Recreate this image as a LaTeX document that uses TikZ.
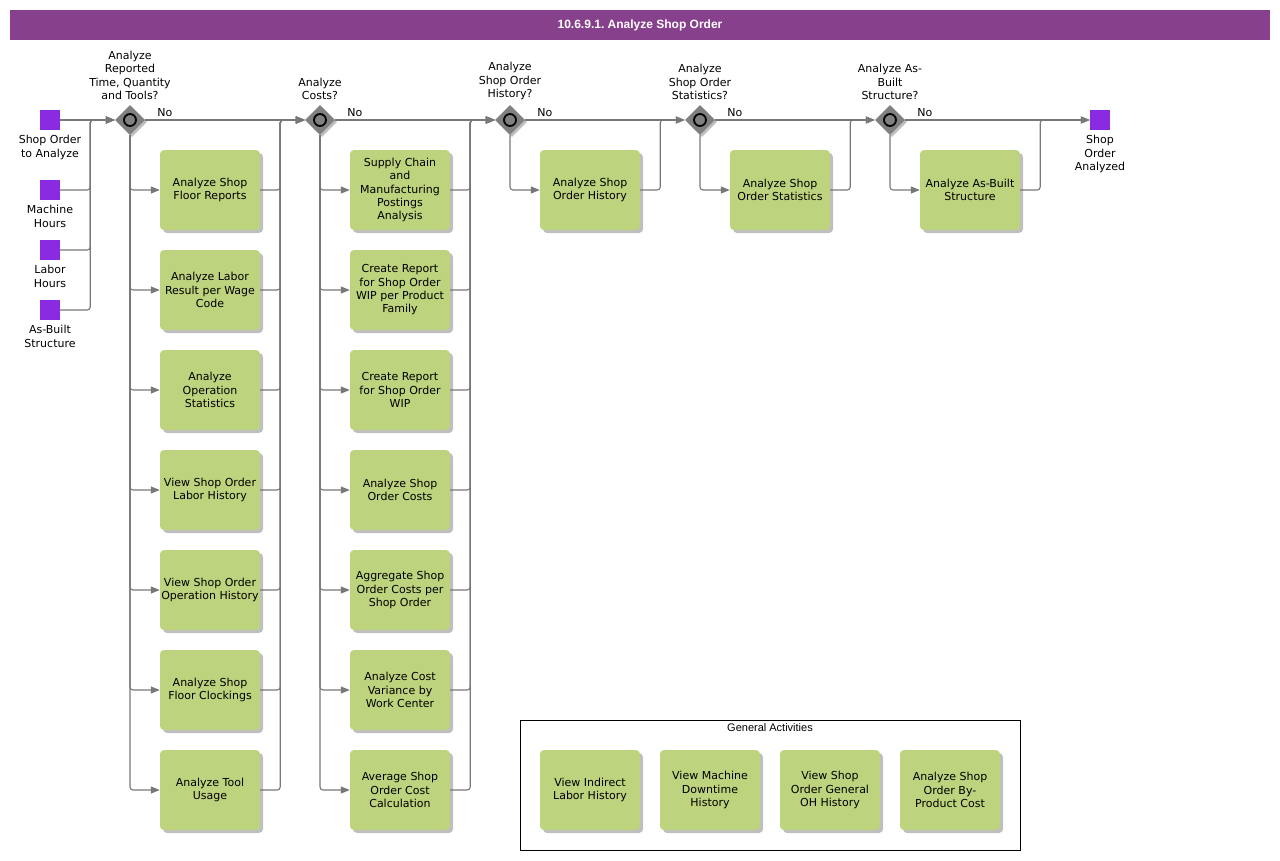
\documentclass[tikz,border=0pt]{standalone}
\usepackage{fontspec}
\setmainfont{DejaVu Sans}
\newfontfamily\headfont{Liberation Sans}
\usetikzlibrary{positioning,shapes.geometric,shadows,arrows.meta}
\definecolor{titlepurple}{RGB}{135,64,140}
\definecolor{eventpurple}{RGB}{138,43,226}
\definecolor{taskgreen}{RGB}{189,211,125}
\definecolor{gwgray}{RGB}{128,128,128}
\definecolor{linegray}{RGB}{120,120,120}
\newdimen\unitsize
\setlength{\unitsize}{1pt}
\frenchspacing

\begin{document}
\begin{tikzpicture}[x=\unitsize,y=-\unitsize]
\tikzset{txt/.style={font=\fontsize{11}{13.3}\selectfont, align=center, inner sep=0pt}}%
\tikzset{task/.style={txt, rectangle, rounded corners=4pt, fill=taskgreen, minimum width=100pt, minimum height=80pt,
  drop shadow={shadow xshift=3pt, shadow yshift=-3pt, fill=black, opacity=0.25}}}%
\tikzset{event/.style={rectangle, fill=eventpurple, minimum size=20pt, inner sep=0pt}}%
\tikzset{gateway/.style={diamond, fill=gwgray, minimum width=30pt, minimum height=30pt, inner sep=0pt,
  drop shadow={shadow xshift=2pt, shadow yshift=-2pt, fill=black, opacity=0.25},
  path picture={\draw[black, line width=1.8pt] (path picture bounding box.center) circle (6pt);}}}%
\tikzset{flow/.style={draw=linegray, line width=1.1pt, rounded corners=3pt, -{Triangle[length=9pt,width=7pt]}}}%
\useasboundingbox (0,0) rectangle (1280,860);
\node[fill=titlepurple, minimum width=1260pt, minimum height=30pt, text=white, font=\headfont\bfseries\fontsize{12}{14}\selectfont] (title) at (640,25) {10.6.9.1. Analyze Shop Order};
% events
\node[event] (s1) at (50,120) {};
\node[event] (s2) at (50,190) {};
\node[event] (s3) at (50,250) {};
\node[event] (s4) at (50,310) {};
\node[event] (e1) at (1100,120) {};
\node[txt, below=5pt of s1] {Shop Order\\to Analyze};
\node[txt, below=5pt of s2] {Machine\\Hours};
\node[txt, below=5pt of s3] {Labor\\Hours};
\node[txt, below=5pt of s4] {As-Built\\Structure};
\node[txt, below=5pt of e1] {Shop\\Order\\Analyzed};
% gateways
\node[gateway] (g1) at (130,120) {};
\node[gateway] (g2) at (320,120) {};
\node[gateway] (g3) at (510,120) {};
\node[gateway] (g4) at (700,120) {};
\node[gateway] (g5) at (890,120) {};
\node[txt, above=5pt of g1] {Analyze\\Reported\\Time, Quantity\\and Tools?};
\node[txt, above=5pt of g2] {Analyze\\Costs?};
\node[txt, above=5pt of g3] {Analyze\\Shop Order\\History?};
\node[txt, above=5pt of g4] {Analyze\\Shop Order\\Statistics?};
\node[txt, above=5pt of g5] {Analyze As-\\Built\\Structure?};
\node[txt, above right=3pt and 12pt of g1.east] {No};
\node[txt, above right=3pt and 12pt of g2.east] {No};
\node[txt, above right=3pt and 12pt of g3.east] {No};
\node[txt, above right=3pt and 12pt of g4.east] {No};
\node[txt, above right=3pt and 12pt of g5.east] {No};
% tasks
\node[task] (t11) at (210,190) {Analyze Shop\\Floor Reports};
\node[task] (t12) at (210,290) {Analyze Labor\\Result per Wage\\Code};
\node[task] (t13) at (210,390) {Analyze\\Operation\\Statistics};
\node[task] (t14) at (210,490) {View Shop Order\\Labor History};
\node[task] (t15) at (210,590) {View Shop Order\\Operation History};
\node[task] (t16) at (210,690) {Analyze Shop\\Floor Clockings};
\node[task] (t17) at (210,790) {Analyze Tool\\Usage};
\node[task] (t21) at (400,190) {Supply Chain\\and\\Manufacturing\\Postings\\Analysis};
\node[task] (t22) at (400,290) {Create Report\\for Shop Order\\WIP per Product\\Family};
\node[task] (t23) at (400,390) {Create Report\\for Shop Order\\WIP};
\node[task] (t24) at (400,490) {Analyze Shop\\Order Costs};
\node[task] (t25) at (400,590) {Aggregate Shop\\Order Costs per\\Shop Order};
\node[task] (t26) at (400,690) {Analyze Cost\\Variance by\\Work Center};
\node[task] (t27) at (400,790) {Average Shop\\Order Cost\\Calculation};
\node[task] (t3) at (590,190) {Analyze Shop\\Order History};
\node[task] (t4) at (780,190) {Analyze Shop\\Order Statistics};
\node[task] (t5) at (970,190) {Analyze As-Built\\Structure};
% general activities
\node[draw, line width=0.8pt, minimum width=500pt, minimum height=130pt, inner sep=0pt] (gabox) at (770,785) {};
\node[font=\headfont\fontsize{11}{13}\selectfont, inner sep=0pt, below=4pt of gabox.north] {General Activities};
\node[task] (ga1) at (590,790) {View Indirect\\Labor History};
\node[task] (ga2) at (710,790) {View Machine\\Downtime\\History};
\node[task] (ga3) at (830,790) {View Shop\\Order General\\OH History};
\node[task] (ga4) at (950,790) {Analyze Shop\\Order By-\\Product Cost};
% flows
\draw[flow] (s1.east) -- (g1.west);
\draw[flow] (s2.east) -- ++(30,0) |- (g1.west);
\draw[flow] (s3.east) -- ++(30,0) |- (g1.west);
\draw[flow] (s4.east) -- ++(30,0) |- (g1.west);
\draw[flow] (g1.east) -- (g2.west);
\draw[flow] (g2.east) -- (g3.west);
\draw[flow] (g3.east) -- (g4.west);
\draw[flow] (g4.east) -- (g5.west);
\draw[flow] (g5.east) -- (e1.west);
\draw[flow] (g1.south) |- (t11.west);
\draw[flow] (g1.south) |- (t12.west);
\draw[flow] (g1.south) |- (t13.west);
\draw[flow] (g1.south) |- (t14.west);
\draw[flow] (g1.south) |- (t15.west);
\draw[flow] (g1.south) |- (t16.west);
\draw[flow] (g1.south) |- (t17.west);
\draw[flow] (t11.east) -- ++(20,0) |- (g2.west);
\draw[flow] (t12.east) -- ++(20,0) |- (g2.west);
\draw[flow] (t13.east) -- ++(20,0) |- (g2.west);
\draw[flow] (t14.east) -- ++(20,0) |- (g2.west);
\draw[flow] (t15.east) -- ++(20,0) |- (g2.west);
\draw[flow] (t16.east) -- ++(20,0) |- (g2.west);
\draw[flow] (t17.east) -- ++(20,0) |- (g2.west);
\draw[flow] (g2.south) |- (t21.west);
\draw[flow] (g2.south) |- (t22.west);
\draw[flow] (g2.south) |- (t23.west);
\draw[flow] (g2.south) |- (t24.west);
\draw[flow] (g2.south) |- (t25.west);
\draw[flow] (g2.south) |- (t26.west);
\draw[flow] (g2.south) |- (t27.west);
\draw[flow] (t21.east) -- ++(20,0) |- (g3.west);
\draw[flow] (t22.east) -- ++(20,0) |- (g3.west);
\draw[flow] (t23.east) -- ++(20,0) |- (g3.west);
\draw[flow] (t24.east) -- ++(20,0) |- (g3.west);
\draw[flow] (t25.east) -- ++(20,0) |- (g3.west);
\draw[flow] (t26.east) -- ++(20,0) |- (g3.west);
\draw[flow] (t27.east) -- ++(20,0) |- (g3.west);
\draw[flow] (g3.south) |- (t3.west);
\draw[flow] (t3.east) -- ++(20,0) |- (g4.west);
\draw[flow] (g4.south) |- (t4.west);
\draw[flow] (t4.east) -- ++(20,0) |- (g5.west);
\draw[flow] (g5.south) |- (t5.west);
\draw[flow] (t5.east) -- ++(20,0) |- (e1.west);
\end{tikzpicture}
\end{document}
